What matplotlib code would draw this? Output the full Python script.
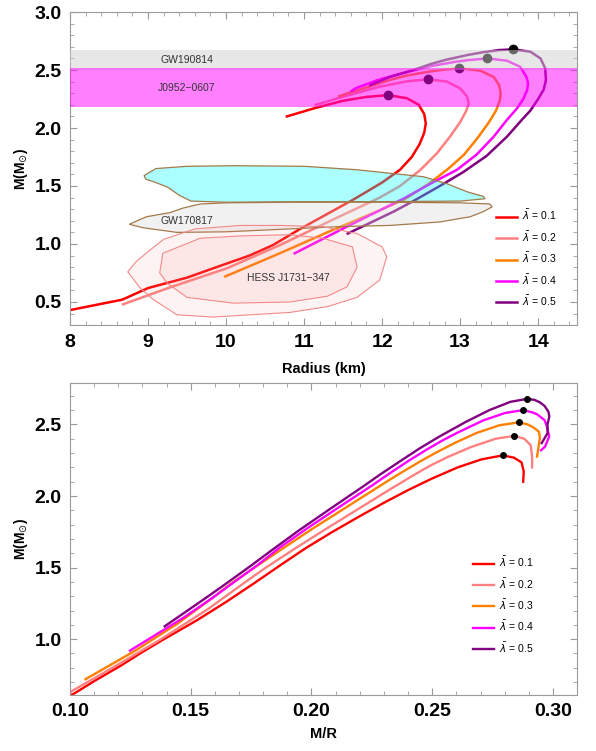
import numpy as np
import matplotlib
matplotlib.use("Agg")
import matplotlib.pyplot as plt
from matplotlib.patches import Polygon
from matplotlib.ticker import MultipleLocator, FormatStrFormatter

plt.rcParams['font.family'] = ['Liberation Sans', 'DejaVu Sans']

# mass-radius sequences (R in km, M in solar masses), low mass -> max -> end
lambdas = ["0.1", "0.2", "0.3", "0.4", "0.5"]
colors = ["#ff0000", "#ff8080", "#ff8000", "#ff00ff", "#800080"]

R_01 = [8.0, 8.67, 9.0, 9.5, 9.96, 10.3, 10.6, 10.95, 11.3, 11.65, 12.0, 12.23, 12.38, 12.48,
        12.54, 12.56, 12.54, 12.47, 12.32, 12.08, 11.8, 11.5, 11.13, 10.78]
M_01 = [0.43, 0.52, 0.62, 0.71, 0.82, 0.90, 0.99, 1.13, 1.26, 1.39, 1.53, 1.64, 1.75, 1.86,
        1.96, 2.04, 2.12, 2.20, 2.256, 2.284, 2.268, 2.235, 2.17, 2.10]

R_02 = [8.68, 9.3, 10.01, 10.69, 11.37, 11.97, 12.23, 12.49, 12.70, 12.87, 13.0, 13.08, 13.11,
        13.09, 13.0, 12.83, 12.585, 12.3, 11.96, 11.53, 11.15]
M_02 = [0.48, 0.63, 0.79, 0.99, 1.21, 1.40, 1.50, 1.638, 1.78, 1.925, 2.05, 2.15, 2.21,
        2.27, 2.342, 2.40, 2.42, 2.40, 2.355, 2.275, 2.20]

R_03 = [9.99, 10.69, 11.33, 11.97, 12.3, 12.6, 12.85, 13.05, 13.23, 13.37, 13.46, 13.51, 13.52,
        13.5, 13.43, 13.26, 12.99, 12.75, 12.55, 12.3, 12.08, 11.66, 11.45]
M_03 = [0.72, 0.92, 1.11, 1.29, 1.39, 1.52, 1.65, 1.77, 1.92, 2.05, 2.15, 2.24, 2.30,
        2.37, 2.44, 2.494, 2.515, 2.50, 2.48, 2.45, 2.41, 2.32, 2.275]

R_04 = [10.88, 11.55, 11.97, 12.3, 12.62, 12.96, 13.21, 13.43, 13.6, 13.73, 13.81, 13.86, 13.87,
        13.85, 13.77, 13.6, 13.35, 13.1, 12.93, 12.6, 12.34, 11.95, 11.67, 11.61]
M_04 = [0.92, 1.15, 1.29, 1.40, 1.52, 1.64, 1.77, 1.925, 2.07, 2.17, 2.25, 2.33, 2.39,
        2.44, 2.528, 2.58, 2.60, 2.585, 2.57, 2.53, 2.486, 2.415, 2.345, 2.32]

R_05 = [11.56, 12.15, 12.4, 12.74, 13.04, 13.34, 13.6, 13.79, 13.9, 14.0, 14.07, 14.1, 14.09,
        14.03, 13.9, 13.68, 13.5, 13.31, 13.1, 12.83, 12.64, 12.4, 12.1, 11.85]
M_05 = [1.09, 1.28, 1.37, 1.50, 1.62, 1.76, 1.925, 2.07, 2.15, 2.25, 2.33, 2.414, 2.515,
        2.60, 2.658, 2.678, 2.672, 2.655, 2.63, 2.59, 2.555, 2.50, 2.44, 2.37]

radii = [R_01, R_02, R_03, R_04, R_05]
masses = [M_01, M_02, M_03, M_04, M_05]

# observational constraints
gw190814 = (2.50, 2.67)
j0952 = (2.18, 2.52)

gw170817_hi_R = [8.95, 9.1, 9.5, 10.1, 11.0, 11.68, 12.1, 12.53, 12.83, 13.09, 13.3, 13.32,
                 13.0, 12.0, 11.0, 10.0, 9.55, 9.4, 9.25, 9.1, 8.97]
gw170817_hi_M = [1.59, 1.65, 1.67, 1.675, 1.67, 1.64, 1.61, 1.58, 1.52, 1.45, 1.41, 1.39,
                 1.37, 1.365, 1.365, 1.36, 1.37, 1.42, 1.49, 1.53, 1.56]

gw170817_lo_R = [8.76, 8.98, 9.28, 9.45, 9.67, 10.0, 10.82, 12.0, 13.0, 13.38, 13.41,
                 13.3, 13.13, 12.74, 12.1, 11.46, 10.82, 10.0, 9.37, 8.94]
gw170817_lo_M = [1.17, 1.235, 1.27, 1.31, 1.345, 1.355, 1.36, 1.36, 1.355, 1.345, 1.32,
                 1.28, 1.235, 1.19, 1.16, 1.15, 1.13, 1.105, 1.10, 1.14]

hess_outer_R = [10.18, 9.6, 9.2, 9.03, 8.85, 8.74, 8.9, 9.07, 9.37, 9.83, 10.82, 11.3,
                11.68, 11.97, 12.06, 12.0, 11.68, 11.24, 10.7]
hess_outer_M = [1.16, 1.13, 1.04, 0.95, 0.85, 0.76, 0.62, 0.52, 0.39, 0.37, 0.41, 0.46,
                0.54, 0.69, 0.89, 0.975, 1.09, 1.15, 1.16]

hess_inner_R = [9.67, 9.19, 9.15, 9.25, 9.5, 10.09, 10.82, 11.3, 11.55, 11.68, 11.62,
                11.24, 10.82, 10.2]
hess_inner_M = [1.05, 0.92, 0.75, 0.66, 0.54, 0.49, 0.50, 0.55, 0.63, 0.80, 0.975,
                1.05, 1.08, 1.07]

MSUN_KM = 1.4766

fig = plt.figure(figsize=(5.96, 7.51), dpi=100)
ax1 = fig.add_axes([0.1174, 0.567, 0.851, 0.417])
ax2 = fig.add_axes([0.1174, 0.0746, 0.851, 0.4155])


def style_axes(ax):
    for s in ax.spines.values():
        s.set_color("#9a9a9a")
        s.set_linewidth(0.8)
    ax.tick_params(which="both", direction="in", top=True, right=True, color="#9a9a9a")
    ax.tick_params(which="major", length=5, width=0.8, labelsize=14, pad=6)
    ax.tick_params(which="minor", length=3, width=0.6)
    for lab in ax.get_xticklabels() + ax.get_yticklabels():
        lab.set_fontweight("bold")


# top: mass-radius
handles = []
for R, M, c, lam in zip(radii, masses, colors, lambdas):
    h, = ax1.plot(R, M, color=c, lw=1.8, zorder=2, solid_joinstyle="round",
                  label=r"$\bar{\lambda}$ = " + lam)
    handles.append(h)
    i = int(np.argmax(M))
    ax1.plot(R[i], M[i], "o", color="black", ms=6, zorder=3)

ax1.axhspan(*gw190814, color=(0.82, 0.82, 0.82), alpha=0.5, lw=0, zorder=4)
ax1.axhspan(*j0952, color="#ff00ff", alpha=0.5, lw=0, zorder=4)

ax1.add_patch(Polygon(list(zip(gw170817_hi_R, gw170817_hi_M)), closed=True,
                      facecolor=(0.0, 1.0, 1.0, 0.33), edgecolor="#a47a4a", lw=0.9, zorder=4))
ax1.add_patch(Polygon(list(zip(gw170817_lo_R, gw170817_lo_M)), closed=True,
                      facecolor=(0.85, 0.85, 0.85, 0.35), edgecolor="#a47a4a", lw=0.9, zorder=4))
ax1.add_patch(Polygon(list(zip(hess_outer_R, hess_outer_M)), closed=True,
                      facecolor=(0.97, 0.55, 0.55, 0.1), edgecolor="#f28a8a", lw=0.8, zorder=4))
ax1.add_patch(Polygon(list(zip(hess_inner_R, hess_inner_M)), closed=True,
                      facecolor=(0.97, 0.55, 0.55, 0.12), edgecolor="#f28a8a", lw=0.8, zorder=4))

txt = dict(fontsize=7.5, color="#333333", ha="center", va="center", zorder=5)
ax1.text(9.5, 2.59, "GW190814", **txt)
ax1.text(9.5, 2.345, "J0952\u22120607", **txt)
ax1.text(9.5, 1.2, "GW170817", **txt)
ax1.text(10.8, 0.71, "HESS J1731\u2212347", **txt)

ax1.set_xlim(8, 14.5)
ax1.set_ylim(0.3, 3.0)
ax1.xaxis.set_major_locator(MultipleLocator(1))
ax1.xaxis.set_minor_locator(MultipleLocator(0.2))
ax1.yaxis.set_major_locator(MultipleLocator(0.5))
ax1.yaxis.set_minor_locator(MultipleLocator(0.1))
ax1.set_xlabel("Radius (km)", fontsize=10.5, fontweight="bold", labelpad=8)
ax1.set_ylabel(r"M(M$_{\odot}$)", fontsize=10, fontweight="bold", labelpad=3)
style_axes(ax1)
ax1.legend(handles=handles, loc="upper left", bbox_to_anchor=(0.83, 0.39), frameon=False,
           fontsize=7.5, handlelength=2.0, labelspacing=0.7, borderpad=0, handletextpad=0.5)

# bottom: mass vs compactness
handles = []
for R, M, c, lam in zip(radii, masses, colors, lambdas):
    C = MSUN_KM * np.array(M) / np.array(R)
    h, = ax2.plot(C, M, color=c, lw=1.7, zorder=2, solid_joinstyle="round",
                  label=r"$\bar{\lambda}$ = " + lam)
    handles.append(h)
    i = int(np.argmax(M))
    ax2.plot(C[i], M[i], "o", color="black", ms=4, zorder=3)

ax2.set_xlim(0.10, 0.31)
ax2.set_ylim(0.61, 2.79)
ax2.xaxis.set_major_locator(MultipleLocator(0.05))
ax2.xaxis.set_minor_locator(MultipleLocator(0.01))
ax2.yaxis.set_major_locator(MultipleLocator(0.5))
ax2.yaxis.set_minor_locator(MultipleLocator(0.1))
ax2.xaxis.set_major_formatter(FormatStrFormatter("%.2f"))
ax2.set_xlabel("M/R", fontsize=10.5, fontweight="bold", labelpad=5)
ax2.set_ylabel(r"M(M$_{\odot}$)", fontsize=10, fontweight="bold", labelpad=3)
style_axes(ax2)
ax2.legend(handles=handles, loc="upper left", bbox_to_anchor=(0.785, 0.465), frameon=False,
           fontsize=7.5, handlelength=2.0, labelspacing=0.7, borderpad=0, handletextpad=0.5)

fig.savefig("out.png", dpi=100)
